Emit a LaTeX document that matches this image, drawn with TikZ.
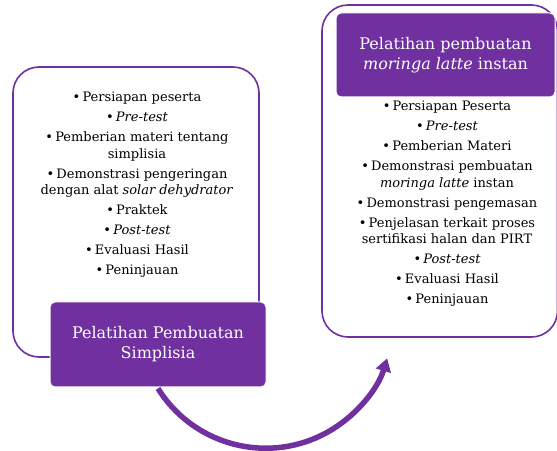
\documentclass[tikz,border=0pt]{standalone}
\usepackage{fontspec}
\setmainfont{DejaVu Serif}
\usetikzlibrary{arrows.meta}
\definecolor{ungu}{HTML}{7030A0}
\newcommand{\butir}{\textbullet\,}

\begin{document}
\begin{tikzpicture}[x=1pt,y=1pt,
  bingkai/.style={draw=ungu, line width=1.6pt, rounded corners=26pt, fill=white},
  judul/.style={fill=ungu, draw=white, line width=1pt, rounded corners=5pt,
    text=white, align=center, font=\fontsize{16}{20}\selectfont},
  daftar/.style={align=center, inner sep=0pt, font=\fontsize{13}{16.5}\selectfont},
  alur/.style={draw=ungu, line width=5.5pt, -{Triangle[length=13pt,width=15pt]}}]
 \useasboundingbox (0,0) rectangle (557,450);
 \node[bingkai, minimum width=246pt, minimum height=290pt] (kiri) at (136,238) {}; %bingkai kiri
 \node[bingkai, minimum width=235.5pt, minimum height=332pt] (kanan) at (439.75,279) {}; %bingkai kanan

 \node[daftar, anchor=north] (isikiri) at (137,358) {%
   \butir Persiapan peserta\\[3.5pt]
   \butir\textit{Pre-test}\\[3.5pt]
   \butir Pemberian materi tentang\\
   simplisia\\[3.5pt]
   \butir Demonstrasi pengeringan\\
   dengan alat \textit{solar dehydrator}\\[3.5pt]
   \butir Praktek\\[3.5pt]
   \butir\textit{Post-test}\\[3.5pt]
   \butir Evaluasi Hasil\\[3.5pt]
   \butir Peninjauan};
 \node[daftar, anchor=north] (isikanan) at (447,349) {%
   \butir Persiapan Peserta\\[3.5pt]
   \butir\textit{Pre-test}\\[3.5pt]
   \butir Pemberian Materi\\[3.5pt]
   \butir Demonstrasi pembuatan\\
   \textit{moringa latte} instan\\[3.5pt]
   \butir Demonstrasi pengemasan\\[3.5pt]
   \butir Penjelasan terkait proses\\
   sertifikasi halan dan PIRT\\[3.5pt]
   \butir\textit{Post-test}\\[3.5pt]
   \butir Evaluasi Hasil\\[3.5pt]
   \butir Peninjauan};

 \node[judul, minimum width=216pt, minimum height=85pt] (simp) at (158,105.5)
   {Pelatihan Pembuatan\\Simplisia}; %kotak ungu kiri
 \node[judul, minimum width=219pt, minimum height=84pt] (moringa) at (445.5,395)
   {Pelatihan pembuatan\\\textit{moringa latte} instan}; %kotak ungu kanan

 \draw[alur] ([yshift=-1pt]simp.south) arc[start angle=212, end angle=343, radius=127pt]; %panah
\end{tikzpicture}
\end{document}
